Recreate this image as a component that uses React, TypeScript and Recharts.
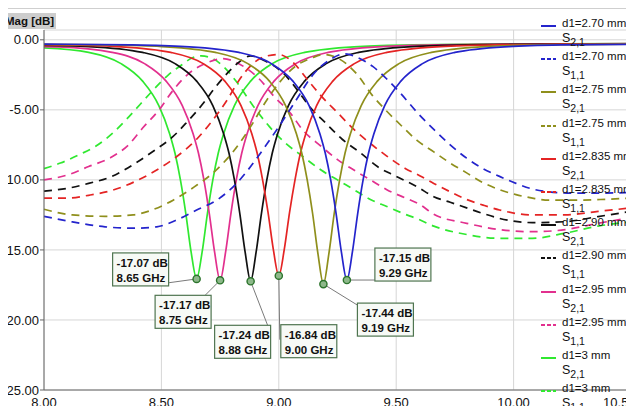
import { LineChart, Line, XAxis, YAxis, CartesianGrid, ReferenceDot } from "recharts";

const freqTicks = [8, 8.5, 9, 9.5, 10, 10.5];
const magTicks = [0, -5, -10, -15, -20, -25];

// |S21| traces, [GHz, dB]
const s21_270: [number, number][] = [
  [8.0, -0.31], [8.37, -0.36], [8.6, -0.48], [8.83, -0.9], [8.968, -1.7], [9.06, -2.95], [9.129, -4.7],
  [9.175, -6.7], [9.198, -8.1], [9.221, -10.0], [9.244, -12.4], [9.267, -15.2], [9.29, -17.15],
  [9.313, -15.2], [9.336, -12.4], [9.359, -10.0], [9.382, -8.1], [9.405, -6.7], [9.451, -4.7],
  [9.52, -2.95], [9.612, -1.7], [9.75, -0.9], [9.98, -0.48], [10.21, -0.36], [10.5, -0.32],
];
const s21_275: [number, number][] = [
  [8.0, -0.32], [8.27, -0.36], [8.5, -0.48], [8.73, -0.9], [8.868, -1.7], [8.96, -2.95], [9.029, -4.7],
  [9.075, -6.7], [9.098, -8.1], [9.121, -10.0], [9.144, -12.4], [9.167, -15.3], [9.19, -17.44],
  [9.213, -15.3], [9.236, -12.4], [9.259, -10.0], [9.282, -8.1], [9.305, -6.7], [9.351, -4.7],
  [9.42, -2.95], [9.512, -1.7], [9.65, -0.9], [9.88, -0.48], [10.11, -0.36], [10.5, -0.31],
];
const s21_2835: [number, number][] = [
  [8.0, -0.35], [8.08, -0.36], [8.31, -0.48], [8.54, -0.9], [8.678, -1.7], [8.77, -2.95], [8.839, -4.7],
  [8.885, -6.7], [8.908, -8.1], [8.931, -10.0], [8.954, -12.3], [8.977, -15.0], [9.0, -16.84],
  [9.023, -15.0], [9.046, -12.3], [9.069, -10.0], [9.092, -8.1], [9.115, -6.7], [9.161, -4.7],
  [9.23, -2.95], [9.322, -1.7], [9.46, -0.9], [9.69, -0.48], [9.92, -0.36], [10.38, -0.3], [10.5, -0.29],
];
const s21_290: [number, number][] = [
  [8.0, -0.4], [8.19, -0.48], [8.42, -0.9], [8.558, -1.7], [8.65, -2.95], [8.719, -4.7],
  [8.765, -6.7], [8.788, -8.1], [8.811, -10.0], [8.834, -12.4], [8.857, -15.2], [8.88, -17.24],
  [8.903, -15.2], [8.926, -12.4], [8.949, -10.0], [8.972, -8.1], [8.995, -6.7], [9.041, -4.7],
  [9.11, -2.95], [9.202, -1.7], [9.34, -0.9], [9.57, -0.48], [9.8, -0.36], [10.26, -0.3], [10.5, -0.28],
];
const s21_295: [number, number][] = [
  [8.0, -0.48], [8.06, -0.5], [8.29, -0.9], [8.428, -1.7], [8.52, -2.95], [8.589, -4.7],
  [8.635, -6.7], [8.658, -8.1], [8.681, -10.0], [8.704, -12.4], [8.727, -15.2], [8.75, -17.17],
  [8.773, -15.2], [8.796, -12.4], [8.819, -10.0], [8.842, -8.1], [8.865, -6.7], [8.911, -4.7],
  [8.98, -2.95], [9.072, -1.7], [9.21, -0.9], [9.44, -0.48], [9.67, -0.36], [10.13, -0.3], [10.5, -0.27],
];
const s21_300: [number, number][] = [
  [8.0, -0.58], [8.19, -0.9], [8.328, -1.7], [8.42, -2.95], [8.489, -4.7],
  [8.535, -6.7], [8.558, -8.1], [8.581, -10.0], [8.604, -12.4], [8.627, -15.2], [8.65, -17.07],
  [8.673, -15.2], [8.696, -12.4], [8.719, -10.0], [8.742, -8.1], [8.765, -6.7], [8.811, -4.7],
  [8.88, -2.95], [8.972, -1.7], [9.11, -0.9], [9.34, -0.48], [9.57, -0.36], [10.03, -0.3], [10.5, -0.27],
];

// |S11| traces, [GHz, dB]
const s11_270: [number, number][] = [
  [8.0, -12.6], [8.12, -13.0], [8.26, -13.35], [8.38, -13.45], [8.48, -13.35], [8.56, -12.9], [8.65, -12.15],
  [8.74, -11.4], [8.82, -10.25], [8.88, -9.05], [8.93, -7.9], [9.0, -6.2], [9.07, -4.4], [9.15, -2.4],
  [9.22, -1.4], [9.28, -1.0], [9.34, -1.3], [9.4, -1.9], [9.46, -2.8], [9.52, -3.85], [9.59, -5.2],
  [9.66, -6.4], [9.73, -7.5], [9.8, -8.45], [9.87, -9.2], [9.94, -9.75], [10.01, -10.25], [10.08, -10.65],
  [10.15, -10.85], [10.25, -10.95], [10.35, -10.95], [10.5, -10.9],
];
const s11_275: [number, number][] = [
  [8.0, -12.1], [8.12, -12.5], [8.26, -12.6], [8.38, -12.5], [8.46, -12.15], [8.55, -11.45], [8.64, -10.5],
  [8.72, -9.5], [8.8, -8.1], [8.88, -6.2], [8.93, -4.8], [9.0, -3.1], [9.07, -1.9], [9.14, -1.3],
  [9.19, -1.05], [9.25, -1.3], [9.33, -2.4], [9.4, -4.0], [9.46, -5.1], [9.52, -6.1], [9.59, -7.2],
  [9.66, -8.0], [9.73, -8.8], [9.8, -9.5], [9.87, -10.2], [9.94, -10.7], [10.01, -11.05], [10.08, -11.3],
  [10.15, -11.45], [10.25, -11.45], [10.37, -11.4], [10.5, -11.3],
];
const s11_2835: [number, number][] = [
  [8.0, -11.3], [8.1, -11.3], [8.19, -11.1], [8.29, -10.75], [8.39, -10.1], [8.48, -9.3], [8.56, -8.4],
  [8.65, -7.1], [8.72, -5.7], [8.78, -4.3], [8.83, -2.9], [8.89, -1.7], [8.95, -1.15], [9.0, -1.05],
  [9.06, -1.6], [9.12, -2.8], [9.18, -4.0], [9.25, -5.2], [9.32, -6.4], [9.39, -7.4], [9.46, -8.3],
  [9.54, -9.2], [9.6, -9.7], [9.66, -10.25], [9.73, -10.85], [9.8, -11.4], [9.87, -11.8], [9.94, -12.15],
  [10.08, -12.5], [10.22, -12.5], [10.36, -12.25], [10.5, -12.0],
];
const s11_290: [number, number][] = [
  [8.0, -10.8], [8.1, -10.6], [8.19, -10.25], [8.29, -9.75], [8.39, -8.8], [8.47, -7.9], [8.55, -6.9],
  [8.61, -5.85], [8.68, -4.5], [8.72, -3.6], [8.78, -2.4], [8.83, -1.6], [8.88, -1.15], [8.94, -1.5],
  [9.02, -2.4], [9.08, -3.6], [9.13, -4.75], [9.2, -5.95], [9.27, -7.1], [9.35, -8.1], [9.42, -9.05],
  [9.5, -9.75], [9.59, -10.5], [9.66, -11.2], [9.73, -11.6], [9.8, -12.0], [9.87, -12.4], [9.94, -12.75],
  [10.08, -13.05], [10.22, -12.98], [10.36, -12.62], [10.5, -12.25],
];
const s11_295: [number, number][] = [
  [8.0, -10.0], [8.1, -9.65], [8.19, -9.05], [8.29, -8.35], [8.36, -7.5], [8.42, -6.3], [8.49, -5.0],
  [8.55, -3.6], [8.61, -2.5], [8.68, -1.75], [8.76, -1.35], [8.85, -1.9], [8.92, -2.85], [8.98, -4.05],
  [9.05, -5.25], [9.1, -6.4], [9.18, -7.6], [9.25, -8.55], [9.32, -9.3], [9.39, -10.0], [9.46, -10.7],
  [9.54, -11.3], [9.6, -11.75], [9.66, -12.45], [9.8, -13.1], [9.94, -13.55], [10.08, -13.7],
  [10.22, -13.55], [10.36, -13.1], [10.5, -12.7],
];
const s11_300: [number, number][] = [
  [8.0, -9.2], [8.07, -8.8], [8.15, -8.2], [8.22, -7.6], [8.29, -6.7], [8.35, -5.7], [8.41, -4.6],
  [8.47, -3.5], [8.53, -2.5], [8.59, -1.75], [8.63, -1.3], [8.67, -1.15], [8.72, -1.35], [8.77, -2.0],
  [8.82, -3.0], [8.89, -4.7], [8.96, -6.2], [9.03, -7.4], [9.1, -8.3], [9.18, -9.3], [9.25, -10.0],
  [9.32, -10.7], [9.39, -11.4], [9.46, -11.9], [9.53, -12.4], [9.6, -12.85], [9.66, -13.3], [9.8, -13.9],
  [9.94, -14.17], [10.08, -14.17], [10.22, -13.8], [10.36, -13.3], [10.5, -13.0],
];

// dip markers
const markerFreq = [8.65, 8.75, 8.88, 9.0, 9.19, 9.29];
const markerMag = [-17.07, -17.17, -17.24, -16.84, -17.44, -17.15];

const BLUE = "#2424cc";
const OLIVE = "#8f8f1c";
const RED = "#e42424";
const BLACK = "#111111";
const PINK = "#e2308e";
const GREEN = "#30e830";

const toRows = (pts: [number, number][]) => pts.map(([f, db]) => ({ f, db }));

const series = [
  { key: "a", label: "d1=2.70 mm", sub: "2,1", color: BLUE, dashed: false, pts: s21_270 },
  { key: "b", label: "d1=2.70 mm", sub: "1,1", color: BLUE, dashed: true, pts: s11_270 },
  { key: "c", label: "d1=2.75 mm", sub: "2,1", color: OLIVE, dashed: false, pts: s21_275 },
  { key: "d", label: "d1=2.75 mm", sub: "1,1", color: OLIVE, dashed: true, pts: s11_275 },
  { key: "e", label: "d1=2.835 mm", sub: "2,1", color: RED, dashed: false, pts: s21_2835 },
  { key: "f", label: "d1=2.835 mm", sub: "1,1", color: RED, dashed: true, pts: s11_2835 },
  { key: "g", label: "d1=2.90 mm", sub: "2,1", color: BLACK, dashed: false, pts: s21_290 },
  { key: "h", label: "d1=2.90 mm", sub: "1,1", color: BLACK, dashed: true, pts: s11_290 },
  { key: "i", label: "d1=2.95 mm", sub: "2,1", color: PINK, dashed: false, pts: s21_295 },
  { key: "j", label: "d1=2.95 mm", sub: "1,1", color: PINK, dashed: true, pts: s11_295 },
  { key: "k", label: "d1=3 mm", sub: "2,1", color: GREEN, dashed: false, pts: s21_300 },
  { key: "l", label: "d1=3 mm", sub: "1,1", color: GREEN, dashed: true, pts: s11_300 },
];

// where each annotation box sits relative to its marker (px)
const boxPlace = [
  { bx: -84, by: -26, lx: -29, ly: 4 },
  { bx: -65, by: 15, lx: -15, ly: 15 },
  { bx: -36, by: 44, lx: 17, ly: 44 },
  { bx: 2, by: 49, lx: 1, ly: 64 },
  { bx: 34, by: 19, lx: 34, ly: 21 },
  { bx: 28, by: -32, lx: 28, ly: 0 },
];

const FONT = '"Liberation Sans", Arial, sans-serif';

const makeMarker = (i: number) => (props: any) => {
  const { cx, cy } = props;
  const p = boxPlace[i];
  const x0 = cx + p.bx;
  const y0 = cy + p.by;
  return (
    <g>
      <line x1={cx} y1={cy} x2={cx + p.lx} y2={cy + p.ly} stroke="#7a7a7a" strokeWidth={1} />
      <circle cx={cx} cy={cy} r={3.6} fill="#8db88a" stroke="#2c742c" strokeWidth={1.4} />
      <rect x={x0} y={y0} width={56} height={33} fill="#f7faf6" stroke="#4f7550" strokeWidth={1.2} />
      <text x={x0 + 4} y={y0 + 14} fontSize={11.5} fontWeight="bold" fontFamily={FONT} fill="#111">
        {markerMag[i].toFixed(2)} dB
      </text>
      <text x={x0 + 4} y={y0 + 29} fontSize={11.5} fontWeight="bold" fontFamily={FONT} fill="#111">
        {markerFreq[i].toFixed(2)} GHz
      </text>
    </g>
  );
};

const LegendBox = () => (
  <div style={{ position: "absolute", left: 538, top: 15, width: 96, fontFamily: FONT, color: "#111" }}>
    {series.map((s) => (
      <div key={s.key} style={{ position: "relative", height: 33.2 }}>
        <svg width={18} height={10} style={{ position: "absolute", left: 3, top: 6 }}>
          <line
            x1={0}
            y1={5}
            x2={15}
            y2={5}
            stroke={s.color}
            strokeWidth={2}
            strokeDasharray={s.dashed ? "4 2" : undefined}
          />
        </svg>
        <div style={{ position: "absolute", left: 24, top: 0, fontSize: 11.5, lineHeight: "16px", whiteSpace: "nowrap" }}>
          {s.label}
        </div>
        <div style={{ position: "absolute", left: 24, top: 15, fontSize: 12.5, lineHeight: "16px", whiteSpace: "nowrap" }}>
          S<span style={{ fontSize: 10.5, position: "relative", top: 4 }}>{s.sub}</span>
        </div>
      </div>
    ))}
  </div>
);

export default function App() {
  // draw the last legend entries first so the blue traces end up on top
  const drawOrder = [...series].reverse();
  return (
    <div style={{ position: "relative", width: 634, height: 414, margin: -8, background: "#fff", overflow: "hidden", fontFamily: FONT }}>
      {/* window chrome above the plot */}
      <div style={{ position: "absolute", left: 0, top: 0, width: 221, height: 4, background: "#5b5b5b" }} />
      <div style={{ position: "absolute", left: 223, top: 0, width: 127, height: 4, background: "#ececec", border: "1px solid #c4c4c4", borderTop: "none" }} />
      <div style={{ position: "absolute", left: 353, top: 0, width: 143, height: 4, background: "#ececec", border: "1px solid #c4c4c4", borderTop: "none" }} />
      <div style={{ position: "absolute", left: 499, top: 0, width: 128, height: 4, background: "#ececec", border: "1px solid #c4c4c4", borderTop: "none" }} />
      <div style={{ position: "absolute", left: 0, top: 8, width: 634, height: 1, background: "#cfcfcf" }} />
      <div
        style={{
          position: "absolute",
          left: 3,
          top: 13,
          height: 16,
          lineHeight: "16px",
          padding: "0 2px",
          background: "#cdcdcd",
          fontSize: 11.5,
          fontWeight: "bold",
          color: "#111",
        }}
      >
        Mag [dB]
      </div>
      <div style={{ position: "absolute", left: 0, top: 0 }}>
        <LineChart width={634} height={414} margin={{ top: 30, right: 3, left: 0, bottom: 0 }}>
          <CartesianGrid stroke="#d6d6d6" />
          <XAxis
            dataKey="f"
            type="number"
            domain={[8, 10.5]}
            ticks={freqTicks}
            tickFormatter={(v: number) => v.toFixed(2)}
            height={24}
            tickSize={0}
            tickMargin={8}
            axisLine={{ stroke: "#666" }}
            tick={{ fontSize: 13, fill: "#111", fontFamily: FONT }}
          />
          <YAxis
            type="number"
            domain={[-25, 0.7]}
            ticks={magTicks}
            tickFormatter={(v: number) => v.toFixed(2)}
            width={44}
            tickSize={4}
            tickMargin={1}
            axisLine={{ stroke: "#666" }}
            tickLine={{ stroke: "#666" }}
            tick={{ fontSize: 13, fill: "#111", fontFamily: FONT }}
          />
          {drawOrder.map((s) => (
            <Line
              key={s.key}
              data={toRows(s.pts)}
              dataKey="db"
              name={`${s.label} S${s.sub}`}
              type="monotone"
              stroke={s.color}
              strokeWidth={1.7}
              strokeDasharray={s.dashed ? "8 6" : undefined}
              dot={false}
              isAnimationActive={false}
            />
          ))}
          {markerFreq.map((f, i) => (
            <ReferenceDot key={f} x={f} y={markerMag[i]} r={4} shape={makeMarker(i)} />
          ))}
        </LineChart>
      </div>
      <LegendBox />
    </div>
  );
}
